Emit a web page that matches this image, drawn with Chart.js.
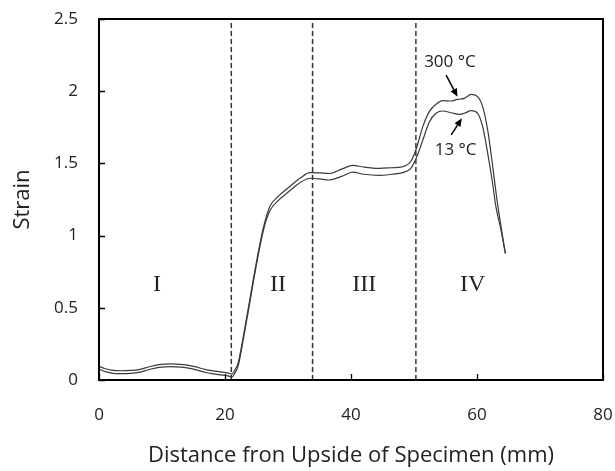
<!DOCTYPE html>
<html>
<head>
<meta charset="utf-8">
<script src="https://cdn.jsdelivr.net/npm/chart.js@4.4.1/dist/chart.umd.min.js"></script>
<style>
  html, body { margin: 0; padding: 0; background: #fff; }
  #wrap { width: 615px; height: 471px; }
</style>
</head>
<body>
<div id="wrap"><canvas id="chart"></canvas></div>
<script>
// Strain along the specimen, two temperatures

const dist300 = [0, 1, 2, 3.5, 5, 6.5, 8, 9.5, 11.4, 13, 15, 17, 19, 20.5, 21.1, 21.6, 22.1, 22.9, 23.95, 25, 26.06, 27.1, 28.4, 30, 32, 33.5, 35, 36.5, 38.5, 40.3, 42, 44.5, 46.5, 48.2, 49.5, 50.35, 51.4, 52.45, 53.5, 54.55, 55.9, 56.9, 58, 59.05, 60.1, 60.9, 61.7, 62.5, 63.1, 63.65, 64.5];
const strain300 = [0.095, 0.078, 0.068, 0.064, 0.066, 0.074, 0.092, 0.106, 0.112, 0.108, 0.094, 0.072, 0.058, 0.048, 0.042, 0.07, 0.12, 0.30, 0.56, 0.82, 1.05, 1.20, 1.27, 1.33, 1.40, 1.436, 1.435, 1.43, 1.46, 1.487, 1.475, 1.466, 1.47, 1.477, 1.515, 1.60, 1.755, 1.86, 1.91, 1.935, 1.932, 1.944, 1.95, 1.978, 1.962, 1.893, 1.73, 1.477, 1.27, 1.108, 0.877];

const dist13 = [0, 1, 2, 3.5, 5, 6.5, 8, 9.5, 11.4, 13, 15, 17, 19, 20.5, 21.1, 21.6, 22.1, 22.9, 23.95, 25, 26.06, 27.1, 28.4, 30, 32, 33.5, 35, 36.5, 38.5, 40.3, 42, 44.5, 46.5, 48.2, 49.5, 50.35, 51.4, 52.45, 53.5, 54.55, 55.9, 57.2, 58, 59.05, 60.1, 60.9, 61.7, 62.4, 63, 63.8, 64.5];
const strain13 = [0.075, 0.058, 0.048, 0.044, 0.046, 0.055, 0.073, 0.087, 0.093, 0.089, 0.075, 0.052, 0.037, 0.028, 0.022, 0.05, 0.10, 0.28, 0.54, 0.80, 1.03, 1.17, 1.24, 1.30, 1.37, 1.397, 1.393, 1.385, 1.41, 1.44, 1.425, 1.417, 1.425, 1.436, 1.466, 1.535, 1.662, 1.789, 1.847, 1.863, 1.851, 1.84, 1.847, 1.865, 1.847, 1.754, 1.57, 1.385, 1.2, 1.04, 0.877];

// region boundaries (dashed) and region names
const boundaries = [21.0, 33.9, 50.3];
const regionNames = ['I', 'II', 'III', 'IV'];
const regionX = [9.2, 28.4, 42.1, 59.3];
const regionY = 0.66;

// curve labels: text position, arrow tail, arrow head
const curveLabels = ['300 \u00B0C', '13 \u00B0C'];
const labelPos = [[55.7, 2.20], [56.6, 1.593]];
const arrowTail = [[55.1, 2.112], [55.9, 1.697]];
const arrowHead = [[56.9, 1.962], [57.6, 1.812]];

const xTicks = [0, 20, 40, 60, 80];
const yTicks = [0, 0.5, 1, 1.5, 2, 2.5];

const INK = '#222';

function toPoints(xs, ys) {
  return xs.map((x, i) => ({ x: x, y: ys[i] }));
}

const curveStyle = {
  borderColor: '#3a3a3a',
  borderWidth: 1.2,
  pointRadius: 0,
  cubicInterpolationMode: 'monotone',
  fill: false
};

const datasets = [
  Object.assign({ label: '300 C', data: toPoints(dist300, strain300) }, curveStyle),
  Object.assign({ label: '13 C', data: toPoints(dist13, strain13) }, curveStyle)
];

boundaries.forEach(b => {
  datasets.push({
    label: 'boundary',
    data: [{ x: b, y: 0 }, { x: b, y: 2.5 }],
    borderColor: '#333',
    borderWidth: 1.5,
    borderDash: [5, 3],
    pointRadius: 0
  });
});

// frame, inner tick marks, region names and arrows
const decorations = {
  id: 'decorations',
  afterDatasetsDraw(chart) {
    const { ctx, chartArea: a, scales: { x, y } } = chart;
    ctx.save();

    ctx.strokeStyle = '#000';
    ctx.lineWidth = 2;
    ctx.strokeRect(a.left, a.top, a.right - a.left, a.bottom - a.top);

    ctx.lineWidth = 1.3;
    ctx.beginPath();
    xTicks.forEach(v => {
      const px = Math.round(x.getPixelForValue(v)) + 0.5;
      ctx.moveTo(px, a.bottom);
      ctx.lineTo(px, a.bottom - 6);
    });
    yTicks.forEach(v => {
      const py = Math.round(y.getPixelForValue(v)) + 0.5;
      ctx.moveTo(a.left, py);
      ctx.lineTo(a.left + 6, py);
    });
    ctx.stroke();

    ctx.fillStyle = INK;
    ctx.textAlign = 'center';
    ctx.textBaseline = 'middle';
    ctx.font = '24px "Liberation Serif", "Times New Roman", serif';
    regionNames.forEach((name, i) => {
      ctx.fillText(name, x.getPixelForValue(regionX[i]), y.getPixelForValue(regionY));
    });

    ctx.font = '17px "Open Sans", sans-serif';
    curveLabels.forEach((txt, i) => {
      ctx.fillText(txt, x.getPixelForValue(labelPos[i][0]), y.getPixelForValue(labelPos[i][1]));

      const x0 = x.getPixelForValue(arrowTail[i][0]);
      const y0 = y.getPixelForValue(arrowTail[i][1]);
      const x1 = x.getPixelForValue(arrowHead[i][0]);
      const y1 = y.getPixelForValue(arrowHead[i][1]);
      const ang = Math.atan2(y1 - y0, x1 - x0);
      const len = 8, half = 3.5;
      const bx = x1 - len * Math.cos(ang);
      const by = y1 - len * Math.sin(ang);

      ctx.strokeStyle = '#000';
      ctx.lineWidth = 1.5;
      ctx.beginPath();
      ctx.moveTo(x0, y0);
      ctx.lineTo(bx, by);
      ctx.stroke();

      ctx.fillStyle = '#000';
      ctx.beginPath();
      ctx.moveTo(x1, y1);
      ctx.lineTo(bx + half * Math.sin(ang), by - half * Math.cos(ang));
      ctx.lineTo(bx - half * Math.sin(ang), by + half * Math.cos(ang));
      ctx.closePath();
      ctx.fill();
      ctx.fillStyle = INK;
    });

    ctx.restore();
  }
};

// fixed axis boxes, no extra room for edge labels
function fitX(s) {
  s.height = 91;
  s.paddingLeft = 0;
  s.paddingRight = 0;
}
function fitY(s) {
  s.width = 99;
  s.paddingTop = 0;
  s.paddingBottom = 0;
}

new Chart(document.getElementById('chart'), {
  type: 'scatter',
  data: { datasets: datasets },
  options: {
    responsive: true,
    maintainAspectRatio: false,
    animation: false,
    showLine: true,
    layout: { autoPadding: false, padding: { top: 19, right: 12, left: 0, bottom: 0 } },
    plugins: {
      legend: { display: false },
      tooltip: { enabled: false }
    },
    scales: {
      x: {
        type: 'linear',
        min: 0,
        max: 80,
        afterFit: fitX,
        grid: { display: false, drawTicks: false },
        border: { display: false },
        ticks: {
          stepSize: 20,
          padding: 25,
          color: INK,
          callback: v => String(v),
          font: { family: '"Open Sans", sans-serif', size: 17 }
        },
        title: {
          display: true,
          text: 'Distance fron Upside of Specimen (mm)',
          color: INK,
          padding: { top: 0, bottom: 2 },
          font: { family: '"Open Sans", sans-serif', size: 22 }
        }
      },
      y: {
        type: 'linear',
        min: 0,
        max: 2.5,
        afterFit: fitY,
        grid: { display: false, drawTicks: false },
        border: { display: false },
        ticks: {
          stepSize: 0.5,
          padding: 21,
          color: INK,
          callback: v => String(v),
          font: { family: '"Open Sans", sans-serif', size: 17 }
        },
        title: {
          display: true,
          text: 'Strain',
          color: INK,
          padding: { top: 10, bottom: 0 },
          font: { family: '"Open Sans", sans-serif', size: 22 }
        }
      }
    }
  },
  plugins: [decorations]
});
</script>
</body>
</html>
